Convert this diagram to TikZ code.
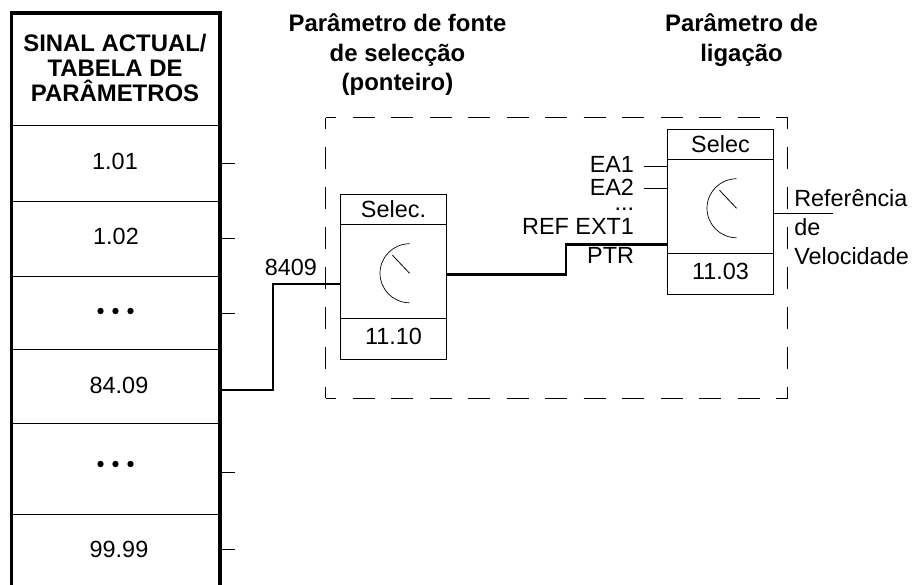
\documentclass[tikz,border=0pt]{standalone}
\usepackage{fontspec}
\setmainfont{Liberation Sans}
\usetikzlibrary{positioning,calc}
\tikzset{
  txt/.style={inner sep=0pt,outer sep=0pt,font=\fontsize{23.4}{25}\selectfont},
  hdr/.style={txt,align=center,font=\bfseries\fontsize{23.9}{25}\selectfont},
  hdrtop/.style={txt,align=center,font=\bfseries\fontsize{23.9}{29.3}\selectfont},
  part/.style={draw,line width=1pt,inner sep=0pt,outer sep=0pt,minimum width=106pt,anchor=north},
  thin line/.style={line width=1pt},
  thick line/.style={line width=2.6pt},
  frame line/.style={line width=3.2pt},
  dashH/.style={line width=1pt,dash pattern=on 22pt off 16.5pt,dash phase=11.5pt},
  dashV/.style={line width=1pt,dash pattern=on 22pt off 18pt,dash phase=11pt},
}
\begin{document}
\begin{tikzpicture}[x=1pt,y=-1pt]
  \useasboundingbox (0,0) rectangle (914,585);
  % table of signals
  \draw[frame line] (11.5,585) -- (11.5,13) -- (220,13) -- (220,585);
  \foreach \y in {125.5,201.5,276.5,349.5,424,515}{
    \draw[thin line] (13,\y) -- (218.5,\y);}
  \node[hdr,anchor=north] (title) at (115,34.5) {SINAL ACTUAL/\\TABELA DE\\PAR\^AMETROS};
  \foreach \n/\x/\y/\t in {r1/115/170/1.01,r2/116/245/1.02,r4/119/394/84.09,r6/119/558/99.99}{
    \node[txt,anchor=base] (\n) at (\x,\y) {\t};}
  \foreach \n/\y in {r3/311,r5/464}{
    \coordinate (\n) at (115.5,\y);
    \foreach \d in {-15,0,15}{\fill ($(\n)+(\d,0)$) circle (3.2pt);} }
  \foreach \n/\y in {p1/163.5,p2/239,p3/314,p5/473,p6/549}{
    \coordinate (\n) at (221,\y);
    \draw[thin line] (\n) -- ++(14,0);}
  % selectors
  \foreach \b/\x/\y/\h/\v in {selA/393.5/194.5/Selec./11.10,selB/720.5/129.5/Selec/11.03}{
    \node[part,minimum height=30pt] (\b head) at (\x,\y) {};
    \node[part,minimum height=94.5pt] (\b) at (\b head.south) {};
    \node[part,minimum height=41pt] (\b val) at (\b.south) {};
    \node[txt,anchor=base] at ($(\b head.south)+(0,-7)$) {\h};
    \node[txt,anchor=base] at ($(\b val.south)+(0,-15.5)$) {\v};
    \coordinate (\b c) at ($(\b.center)+(16,1.5)$);
    \draw[line width=.7pt] ($(\b c)+(0,-29.5)$) arc[start angle=90,end angle=270,radius=29.5pt];
    \draw[line width=.8pt] ($(\b c)+(-17,-18)$) -- (\b c);}
  % dashed frame
  \coordinate (d1) at (325.5,118);
  \coordinate (d2) at (787.5,118);
  \coordinate (d3) at (787.5,398.5);
  \coordinate (d4) at (325.5,398.5);
  \draw[dashH] (d1) -- (d2);
  \draw[dashH] (d4) -- (d3);
  \draw[dashV] (d1) -- (d4);
  \draw[dashV] (d2) -- (d3);
  % links
  \coordinate (tabout) at (221.5,390);
  \coordinate (inA) at (340.5,284);
  \coordinate (outA) at (446.5,274.5);
  \coordinate (inB) at (667.5,244.7);
  \draw[thick line] (tabout) -| (273,284) -- (inA);
  \draw[thick line] (outA) -| (566,244.7) -- (inB);
  \coordinate (ea1) at (644,166.5);
  \coordinate (ea2) at (644,189);
  \coordinate (ref) at (833,213.3);
  \draw[thin line] (ea1) -- (ea1 -| selB.west);
  \draw[thin line] (ea2) -- (ea2 -| selB.west);
  \draw[thin line] (ref -| selB.east) -- (ref);
  % labels
  \node[hdrtop,anchor=north] (fonte) at (397.5,14) {Par\^ametro de fonte\\de selec\c{c}\~ao\\(ponteiro)};
  \node[hdrtop,anchor=north] (liga) at (741.5,14) {Par\^ametro de\\liga\c{c}\~ao};
  \node[txt,anchor=base east] (l8409) at (317,276) {8409};
  \node[txt,anchor=base east] (lea1) at (634,173) {EA1};
  \node[txt,anchor=base east] (lea2) at (634,195.7) {EA2};
  \node[txt,anchor=base east] (ldots) at (634,210.7) {...};
  \node[txt,anchor=base east] (lext) at (634,234.3) {REF EXT1};
  \node[txt,anchor=base east] (lptr) at (634,264) {PTR};
  \node[txt,anchor=base west] (lr1) at (794.3,206.7) {Refer\^encia};
  \node[txt,anchor=base west] (lr2) at (794.3,235.7) {de};
  \node[txt,anchor=base west] (lr3) at (794.3,264.3) {Velocidade};
\end{tikzpicture}
\end{document}
